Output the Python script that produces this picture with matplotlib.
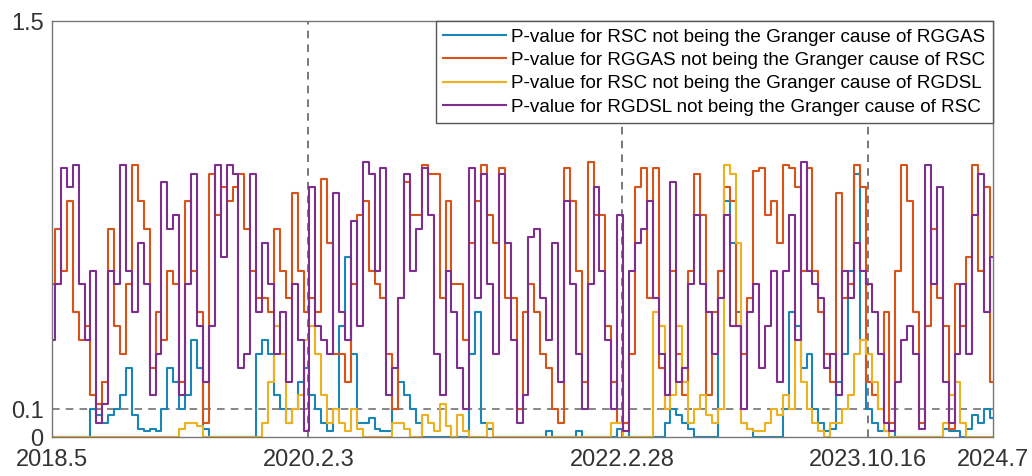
import numpy as np
import matplotlib
matplotlib.use("Agg")
import matplotlib.pyplot as plt

plt.rcParams['font.family'] = ['Liberation Sans', 'DejaVu Sans']

# ---- data (p-values, one value per sample) ----
rggas_to_rsc = [  # orange
    0.55, 0.75, 0.60, 0.85, 0.45, 0.35, 0.40, 0.15, 0.12, 0.20,
    0.75, 0.40, 0.30, 0.55, 0.98, 0.85, 0.75, 0.25, 0.45, 0.35,
    0.60, 0.55, 0.20, 0.85, 0.60, 0.45, 0.05, 0.95, 0.80, 0.90,
    0.85, 0.90, 0.95, 0.75, 0.60, 0.50, 0.50, 0.45, 0.75, 0.60,
    0.50, 0.88, 0.60, 0.45, 0.50, 0.45, 0.93, 0.70, 0.30, 0.30,
    0.20, 0.55, 0.80, 0.85, 0.60, 0.55, 0.50, 0.30, 0.10, 0.50,
    0.92, 0.80, 0.80, 0.98, 0.95, 0.95, 0.50, 0.85, 0.55, 0.55,
    0.35, 0.70, 0.85, 0.98, 0.80, 0.70, 0.97, 0.50, 0.50, 0.10,
    0.45, 0.55, 0.45, 0.30, 0.25, 0.10, 0.05, 0.97, 0.85, 0.60,
    0.20, 0.99, 0.80, 0.80, 0.40, 0.20, 0.05, 0.05, 0.30, 0.90,
    0.97, 0.50, 0.97, 0.25, 0.10, 0.60, 0.30, 0.15, 0.60, 0.95,
    0.80, 0.15, 0.45, 0.60, 0.90, 0.85, 0.40, 0.30, 0.50, 0.96,
    0.97, 0.80, 0.85, 0.70, 0.98, 0.97, 0.90, 0.60, 0.97, 0.60,
    0.45, 0.30, 0.20, 0.88, 0.50, 0.55, 0.98, 0.90, 0.20, 0.15,
    0.10, 0.45, 0.05, 0.60, 0.98, 0.85, 0.45, 0.05, 0.40, 0.75,
    0.50, 0.40, 0.03, 0.55, 0.40, 0.65, 0.98, 0.60, 0.90, 0.20,
]
rgdsl_to_rsc = [  # purple
    0.35, 0.55, 0.97, 0.90, 0.98, 0.55, 0.35, 0.60, 0.05, 0.12,
    0.60, 0.55, 0.98, 0.60, 0.45, 0.70, 0.55, 0.15, 0.30, 0.92,
    0.75, 0.80, 0.15, 0.55, 0.95, 0.40, 0.20, 0.40, 0.98, 0.65,
    0.98, 0.95, 0.25, 0.30, 0.95, 0.45, 0.70, 0.55, 0.30, 0.45,
    0.20, 0.55, 0.35, 0.02, 0.90, 0.40, 0.35, 0.30, 0.88, 0.45,
    0.35, 0.78, 0.40, 0.99, 0.95, 0.60, 0.97, 0.15, 0.25, 0.50,
    0.95, 0.60, 0.75, 0.97, 0.80, 0.30, 0.15, 0.60, 0.45, 0.25,
    0.10, 0.97, 0.50, 0.95, 0.55, 0.30, 0.95, 0.70, 0.35, 0.05,
    0.15, 0.72, 0.75, 0.50, 0.35, 0.70, 0.20, 0.85, 0.55, 0.30,
    0.10, 0.55, 0.90, 0.60, 0.35, 0.10, 0.80, 0.02, 0.60, 0.70,
    0.75, 0.85, 0.50, 0.30, 0.15, 0.92, 0.20, 0.25, 0.55, 0.80,
    0.55, 0.45, 0.30, 0.50, 0.80, 0.40, 0.40, 0.10, 0.45, 0.55,
    0.25, 0.40, 0.60, 0.20, 0.60, 0.80, 0.35, 0.99, 0.60, 0.55,
    0.50, 0.25, 0.30, 0.15, 0.60, 0.50, 0.70, 0.60, 0.55, 0.45,
    0.30, 0.05, 0.02, 0.20, 0.35, 0.40, 0.30, 0.03, 0.98, 0.55,
    0.90, 0.20, 0.05, 0.30, 0.55, 0.30, 0.80, 0.95, 0.45, 0.65,
]
rsc_to_rggas = [  # blue
    0.00, 0.00, 0.00, 0.00, 0.00, 0.00, 0.00, 0.10, 0.08, 0.05,
    0.08, 0.10, 0.15, 0.25, 0.08, 0.03, 0.02, 0.03, 0.02, 0.10,
    0.25, 0.20, 0.10, 0.15, 0.35, 0.25, 0.03, 0.00, 0.00, 0.00,
    0.00, 0.00, 0.00, 0.00, 0.00, 0.30, 0.35, 0.30, 0.15, 0.10,
    0.05, 0.10, 0.20, 0.25, 0.15, 0.10, 0.05, 0.02, 0.10, 0.40,
    0.65, 0.30, 0.05, 0.05, 0.07, 0.03, 0.02, 0.02, 0.10, 0.20,
    0.15, 0.10, 0.05, 0.00, 0.00, 0.00, 0.00, 0.00, 0.00, 0.00,
    0.00, 0.30, 0.45, 0.05, 0.03, 0.00, 0.00, 0.00, 0.00, 0.00,
    0.00, 0.00, 0.00, 0.00, 0.02, 0.00, 0.00, 0.00, 0.00, 0.02,
    0.00, 0.00, 0.00, 0.00, 0.00, 0.00, 0.03, 0.05, 0.00, 0.00,
    0.00, 0.00, 0.00, 0.00, 0.05, 0.10, 0.08, 0.05, 0.03, 0.00,
    0.00, 0.00, 0.00, 0.60, 0.85, 0.70, 0.45, 0.05, 0.03, 0.00,
    0.00, 0.00, 0.00, 0.00, 0.10, 0.45, 0.40, 0.25, 0.30, 0.10,
    0.05, 0.02, 0.03, 0.20, 0.30, 0.60, 0.95, 0.35, 0.10, 0.05,
    0.02, 0.02, 0.02, 0.00, 0.00, 0.00, 0.00, 0.00, 0.00, 0.00,
    0.00, 0.03, 0.02, 0.02, 0.00, 0.03, 0.08, 0.05, 0.10, 0.07,
]
rsc_to_rgdsl = [  # yellow
    0.00, 0.00, 0.00, 0.00, 0.00, 0.00, 0.00, 0.00, 0.00, 0.00,
    0.00, 0.00, 0.00, 0.00, 0.00, 0.00, 0.00, 0.00, 0.00, 0.00,
    0.00, 0.00, 0.03, 0.05, 0.05, 0.04, 0.00, 0.00, 0.00, 0.00,
    0.00, 0.00, 0.00, 0.00, 0.00, 0.00, 0.05, 0.20, 0.40, 0.30,
    0.05, 0.10, 0.15, 0.35, 0.40, 0.30, 0.15, 0.05, 0.10, 0.05,
    0.02, 0.10, 0.03, 0.00, 0.00, 0.00, 0.00, 0.00, 0.05, 0.05,
    0.03, 0.00, 0.00, 0.08, 0.05, 0.02, 0.12, 0.04, 0.00, 0.08,
    0.02, 0.00, 0.00, 0.00, 0.05, 0.00, 0.00, 0.00, 0.00, 0.00,
    0.00, 0.00, 0.00, 0.00, 0.00, 0.00, 0.00, 0.00, 0.00, 0.00,
    0.00, 0.00, 0.00, 0.00, 0.00, 0.05, 0.05, 0.00, 0.00, 0.00,
    0.00, 0.00, 0.45, 0.40, 0.10, 0.15, 0.40, 0.20, 0.05, 0.10,
    0.15, 0.08, 0.05, 0.10, 0.98, 0.95, 0.70, 0.05, 0.03, 0.02,
    0.02, 0.05, 0.10, 0.08, 0.15, 0.10, 0.35, 0.20, 0.10, 0.05,
    0.02, 0.00, 0.05, 0.05, 0.10, 0.15, 0.30, 0.35, 0.30, 0.20,
    0.10, 0.02, 0.00, 0.00, 0.00, 0.00, 0.00, 0.00, 0.00, 0.00,
    0.00, 0.05, 0.15, 0.20, 0.05, 0.00, 0.00, 0.00, 0.00, 0.00,
]
tick_labels = ["2018.5", "2020.2.3", "2022.2.28", "2023.10.16", "2024.7"]
tick_index = [0, 43.3, 96.3, 137.9, 159]
event_index = [43.3, 96.3, 137.9]
threshold = 0.1
labels = [
    "P-value for RSC not being the Granger cause of RGGAS",
    "P-value for RGGAS not being the Granger cause of RSC",
    "P-value for RSC not being the Granger cause of RGDSL",
    "P-value for RGDSL not being the Granger cause of RSC",
]
colors = ["#1a86b8", "#D95319", "#EDB120", "#7E2F8E"]

# ---- figure ----
fig = plt.figure(figsize=(10.32, 4.76), dpi=100)
ax = fig.add_axes([52/1032, 1-437/476, (993-52)/1032, (437-21)/476])

x = np.arange(len(rggas_to_rsc))
series = [rsc_to_rggas, rggas_to_rsc, rsc_to_rgdsl, rgdsl_to_rsc]
handles = []
for s, c, lab in zip(series, colors, labels):
    h, = ax.plot(x, s, color=c, lw=1.5, drawstyle='steps-mid', label=lab)
    handles.append(h)

for e in event_index:
    ax.axvline(e, color='#555555', ls=(0, (5, 4)), lw=1.1, zorder=1)
ax.axhline(threshold, color='#666666', ls=(0, (5, 4)), lw=1.1, zorder=1)

ax.set_xlim(0, len(x) - 1)
ax.set_ylim(0, 1.5)
ax.set_yticks([0, 0.1, 1.5])
ax.set_yticklabels(["0", "0.1", "1.5"])
ax.set_xticks(tick_index)
ax.set_xticklabels(tick_labels)
ax.tick_params(axis='both', direction='in', length=0, labelsize=17,
               colors='#333333', pad=6)
ax.tick_params(axis='x', pad=9)
for sp in ax.spines.values():
    sp.set_color('#777777')
    sp.set_linewidth(1.0)

leg = ax.legend(handles=handles, loc='upper right', fontsize=13.6,
                frameon=True, fancybox=False, framealpha=1,
                edgecolor='#555555', handlelength=3.3, handletextpad=0.3,
                labelspacing=0.32, borderpad=0.4, borderaxespad=0.0)
leg.get_frame().set_linewidth(1.0)
leg.set_zorder(10)

fig.savefig("out.png", dpi=100, facecolor='white')
